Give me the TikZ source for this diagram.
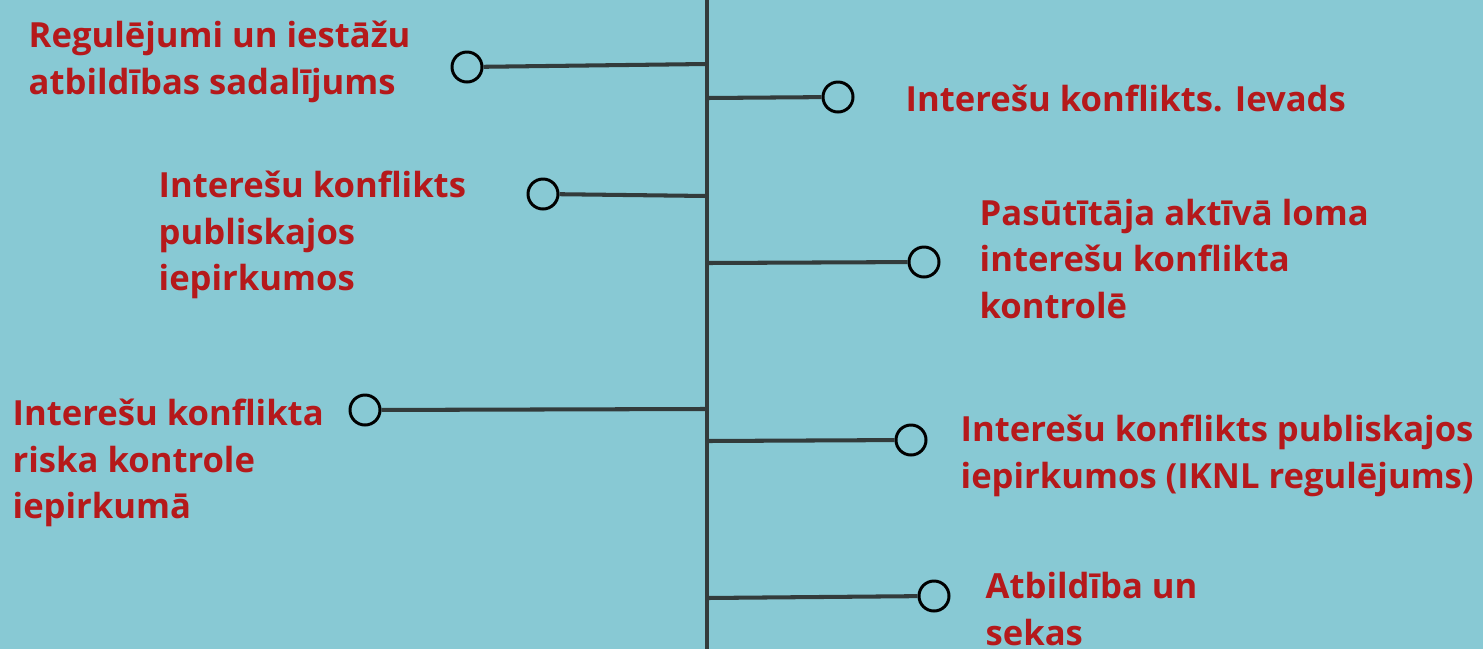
\documentclass[tikz,border=0pt]{standalone}
\usepackage{fontspec}
\setmainfont{Open Sans}
\usetikzlibrary{calc}
\definecolor{Fons}{HTML}{88C9D4}
\definecolor{Teksts}{HTML}{B5191B}
\definecolor{Ass}{HTML}{333B3B}

\tikzset{
  punkts/.style={circle, draw=black, line width=0.85pt, minimum size=0.3cm, inner sep=0pt},
  zars/.style={draw=Ass, line width=1.15pt},
  tema/.style={text=Teksts, font=\fontsize{9.85}{13.3}\selectfont\bfseries,
    align=left, anchor=west, inner sep=0pt},
}

\begin{document}
\begin{tikzpicture}

    \fill[Fons] (0, 0) rectangle (14.83, -6.49);
    \useasboundingbox (0, 0) rectangle (14.83, -6.49);

    \coordinate (Augsa) at (7.07, 0);
    \coordinate (Apaksa) at (7.07, -6.49);
    \draw[zars] (Augsa) -- (Apaksa);

    % Kreisā puse.
    \coordinate (K1) at (7.07, -0.64);
    \coordinate (K2) at (7.07, -1.96);
    \coordinate (K3) at (7.05, -4.09);

    \node[punkts] (P1) at (4.67, -0.67) {};
    \node[punkts] (P2) at (5.43, -1.94) {};
    \node[punkts] (P3) at (3.65, -4.10) {};

    \draw[zars] (P1) -- (K1);
    \draw[zars] (P2) -- (K2);
    \draw[zars] (P3) -- (K3);

    \node[tema] (T1) at (0.28, -0.62) {Regulējumi un iestāžu\\atbildības sadalījums};
    \node[tema] (T2) at (1.58, -2.35) {Interešu konflikts\\publiskajos\\iepirkumos};
    \node[tema] (T3) at (0.12, -4.63) {Interešu konflikta\\riska kontrole\\iepirkumā};

    % Labā puse.
    \coordinate (L1) at (7.07, -0.98);
    \coordinate (L2) at (7.07, -2.63);
    \coordinate (L3) at (7.07, -4.41);
    \coordinate (L4) at (7.07, -5.98);

    \node[punkts] (R1) at (8.38, -0.97) {};
    \node[punkts] (R2) at (9.24, -2.62) {};
    \node[punkts] (R3) at (9.11, -4.40) {};
    \node[punkts] (R4) at (9.34, -5.96) {};

    \draw[zars] (L1) -- (R1);
    \draw[zars] (L2) -- (R2);
    \draw[zars] (L3) -- (R3);
    \draw[zars] (L4) -- (R4);

    \node[tema] (T4) at (9.05, -0.98) {Interešu konflikts. Ievads};
    \node[tema] (T5) at (9.79, -2.59) {Pasūtītāja aktīvā loma\\interešu konflikta\\kontrolē};
    \node[tema] (T6) at (9.60, -4.56) {Interešu konflikts publiskajos\\iepirkumos (IKNL regulējums)};
    \node[tema] (T7) at (9.85, -6.09) {Atbildība un\\sekas};

\end{tikzpicture}
\end{document}
